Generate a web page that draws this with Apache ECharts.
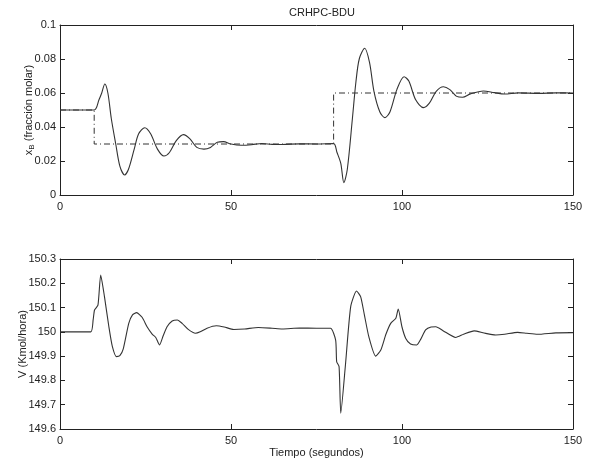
<!DOCTYPE html>
<html><head><meta charset="utf-8">
<script src="https://cdn.jsdelivr.net/npm/echarts@6/dist/echarts.min.js"></script>
<style>html,body{margin:0;padding:0;background:#fff}#c{width:590px;height:463px}</style>
</head><body><div id="c"></div>
<script>
const titleText = 'CRHPC-BDU';
const xTickValues = [0, 50, 100, 150];
const topYTicks = [0, 0.02, 0.04, 0.06, 0.08, 0.1];
const botYTicks = [149.6, 149.7, 149.8, 149.9, 150, 150.1, 150.2, 150.3];

const xbTime = [0,10,11.4,12.2,13.1,14,15,16.3,17.5,18.9,20,21.7,23,24.8,26.5,28.5,30.4,32,34,36.1,38,40,42.1,44,46,47.8,50,53,56,59,62,65,70,75,80,81,82.1,83,84,85.5,86.5,87.5,89.1,90.5,91.8,93.5,95,96.5,98.5,100.6,102,104,106.3,108,110,112.1,114,116,117.7,120,123.8,127,130,134,140,145,150];
const xbValue = [0.05,0.05,0.056,0.060,0.0653,0.060,0.045,0.030,0.017,0.0118,0.015,0.027,0.036,0.0396,0.036,0.027,0.0229,0.025,0.032,0.0355,0.033,0.028,0.027,0.028,0.031,0.0314,0.030,0.0293,0.0296,0.0303,0.0298,0.0297,0.0301,0.030,0.0302,0.025,0.0186,0.0073,0.015,0.045,0.066,0.080,0.0863,0.078,0.061,0.049,0.0455,0.049,0.062,0.0696,0.067,0.056,0.0514,0.054,0.061,0.0637,0.062,0.058,0.0575,0.0595,0.0612,0.0602,0.0594,0.0601,0.0598,0.0601,0.0600];

const spTime = [0, 10, 10, 80, 80, 150];
const spValue = [0.05, 0.05, 0.03, 0.03, 0.06, 0.06];

const vTime = [0,9,9.7,10.1,11.1,11.9,13,14.3,15.3,16.5,17.5,18.5,20.1,21.2,22.4,24,25.5,27,28,29.1,30.2,31.3,32.8,34.3,35.7,37.5,39.6,41,43,45.7,48,50.8,54,58,62,65,70,75,79.1,80.6,80.9,81.6,82.1,83.5,85,86.7,87.9,89,90.3,92.3,93.8,95.3,96.7,98.2,98.9,100,101.1,102.5,104.3,105.5,106.9,108.5,109.9,112,115.7,118,121.1,124,127.4,130,133.8,136.5,139.6,145,150];
const vValue = [150.0,150.0,150.05,150.09,150.11,150.234,150.145,150.02,149.94,149.898,149.902,149.93,150.035,150.07,150.079,150.06,150.02,149.99,149.977,149.946,149.985,150.021,150.045,150.049,150.035,150.01,149.994,150.0,150.015,150.025,150.02,150.01,150.012,150.018,150.015,150.012,150.016,150.015,150.015,149.966,149.877,149.857,149.665,149.87,150.104,150.168,150.145,150.07,149.98,149.9,149.925,149.99,150.035,150.056,150.094,150.02,149.973,149.95,149.946,149.97,150.008,150.02,150.021,150.005,149.977,149.99,150.004,149.995,149.987,149.99,149.998,149.994,149.99,149.996,149.997];

const zip = (a, b) => a.map((t, i) => [t, b[i]]);
const FONT = 'Liberation Sans';
const INK = '#222';
const fmt = v => String(+v.toFixed(2));

function xAxes(gi) {
  const base = {
    type: 'value', gridIndex: gi, min: 0, max: 150, interval: 50,
    axisLine: { show: true, onZero: false, lineStyle: { color: INK, width: 1 } },
    axisTick: { show: true, inside: true, length: 5, lineStyle: { color: INK } },
    splitLine: { show: false }
  };
  return [
    Object.assign({}, base, { position: 'bottom',
      axisLabel: { show: true, color: INK, fontFamily: FONT, fontSize: 11, margin: 6 },
      name: gi === 1 ? 'Tiempo (segundos)' : '', nameLocation: 'middle', nameGap: 18, nameMoveOverlap: false,
      nameTextStyle: { color: INK, fontFamily: FONT, fontSize: 11 } }),
    Object.assign({}, base, { position: 'top', axisLabel: { show: false } })
  ];
}
function yAxes(gi, min, max, interval, name, rich) {
  const base = {
    type: 'value', gridIndex: gi, min: min, max: max, interval: interval,
    axisLine: { show: true, onZero: false, lineStyle: { color: INK, width: 1 } },
    axisTick: { show: true, inside: true, length: 5, lineStyle: { color: INK } },
    splitLine: { show: false }
  };
  return [
    Object.assign({}, base, { position: 'left',
      axisLabel: { show: true, color: INK, fontFamily: FONT, fontSize: 11, margin: 4, formatter: fmt },
      name: name, nameLocation: 'middle', nameGap: gi === 0 ? 24 : 32, nameRotate: 90, nameMoveOverlap: false,
      nameTextStyle: { color: INK, fontFamily: FONT, fontSize: 11, rich: rich } }),
    Object.assign({}, base, { position: 'right', axisLabel: { show: false } })
  ];
}

const chart = echarts.init(document.getElementById('c'), null, { renderer: 'canvas' });
const xs = xAxes(0).concat(xAxes(1));
const ys = yAxes(0, 0, 0.1, 0.02, '{n|x}{s|B}{n| (fracción molar)}',
  { n: { fontFamily: FONT, fontSize: 11, color: INK }, s: { fontFamily: FONT, fontSize: 8, color: INK, padding: [6, 0, 0, 0] } })
  .concat(yAxes(1, 149.6, 150.3, 0.1, 'V (Kmol/hora)', {}));

chart.setOption({
  animation: false,
  backgroundColor: '#fff',
  title: { text: titleText, left: 317, top: 2, textAlign: 'center',
    textStyle: { fontFamily: FONT, fontSize: 11, fontWeight: 'normal', color: INK } },
  grid: [
    { left: 60, right: 17, top: 25, height: 170 },
    { left: 60, right: 17, top: 259, height: 170 }
  ],
  xAxis: xs,
  yAxis: ys,
  series: [
    { type: 'line', xAxisIndex: 0, yAxisIndex: 0, data: zip(spTime, spValue), showSymbol: false,
      lineStyle: { color: '#333', width: 1, type: [6, 3, 1, 3] } },
    { type: 'line', xAxisIndex: 0, yAxisIndex: 0, data: zip(xbTime, xbValue), showSymbol: false, smooth: 0.3,
      lineStyle: { color: '#333', width: 1.1 } },
    { type: 'line', xAxisIndex: 2, yAxisIndex: 2, data: zip(vTime, vValue), showSymbol: false, smooth: 0.2,
      lineStyle: { color: '#333', width: 1.1 } }
  ]
});
</script></body></html>
